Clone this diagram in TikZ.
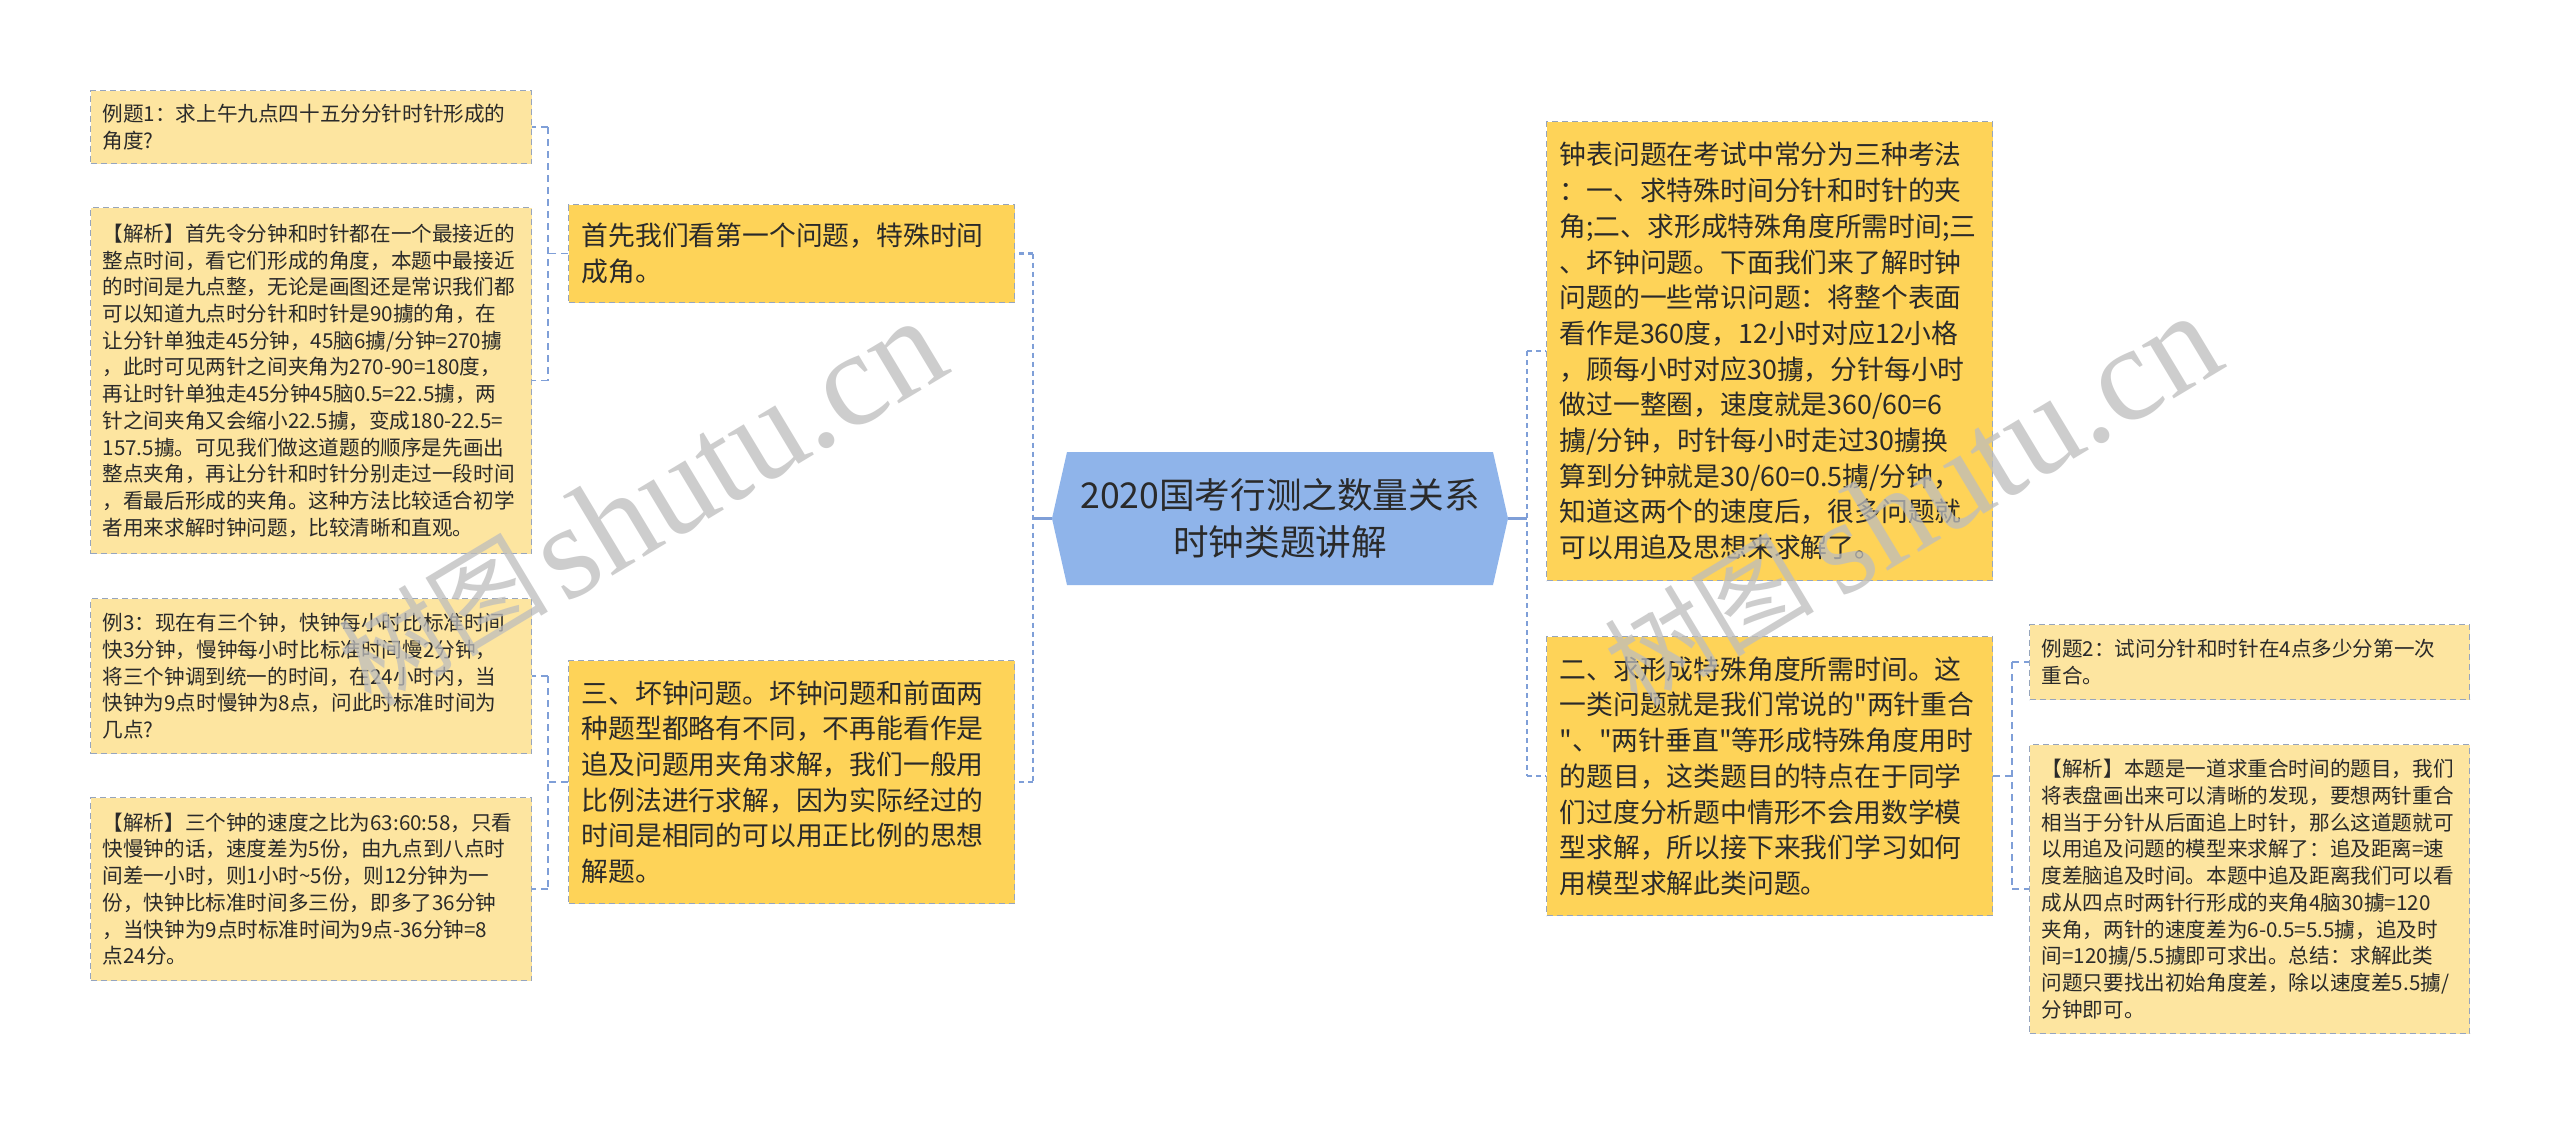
\documentclass[tikz,border=0pt]{standalone}
\usepackage{fontspec}
\setmainfont{Noto Sans CJK SC}[Ligatures=TeXOff]
\newfontfamily\wmfont{Liberation Serif}
\exhyphenpenalty=10000
\hyphenpenalty=10000
\definecolor{leaffill}{HTML}{FDE5A0}
\definecolor{branchfill}{HTML}{FED358}
\definecolor{centerfill}{HTML}{8FB4EA}
\definecolor{bordercol}{HTML}{96A5BE}
\definecolor{conncol}{HTML}{7F9FD8}
\definecolor{txtcol}{HTML}{2A2A2A}
\definecolor{wmcol}{HTML}{BDBDBD}
\tikzset{
  box/.style={draw=bordercol, line width=1.3pt, dash pattern=on 6pt off 4pt,
    align=left, inner ysep=0pt, text=txtcol, anchor=north west},
  leaf/.style={box, fill=leaffill, inner xsep=12pt, text width=417pt,
    minimum width=441pt, font=\fontsize{20.6}{26.7}\selectfont},
  branch/.style={box, fill=branchfill, inner xsep=13pt, text width=420pt,
    minimum width=446pt, font=\fontsize{26.8}{35.7}\selectfont},
  conn/.style={draw=conncol, line width=1.6pt, dash pattern=on 7pt off 5pt},
  mainconn/.style={draw=conncol, line width=2.6pt, dash pattern=on 5pt off 4pt},
  solidconn/.style={draw=conncol, line width=2.6pt},
  wm/.style={text=wmcol, opacity=0.75, rotate=31, inner sep=0pt}
}
\begin{document}
\begin{tikzpicture}[x=1pt,y=-1pt]
\useasboundingbox[fill=white] (0,0) rectangle (2560,1124);

% central node
\fill[centerfill] (1067,452) -- (1493,452) -- (1508,518.5) -- (1493,585) -- (1067,585) -- (1052,518.5) -- cycle;
\node[minimum width=456pt, minimum height=133pt, inner sep=0pt, align=center,
  font=\fontsize{35.6}{47}\selectfont, text=txtcol] (C) at (1280,518.5)
  {2020国考行测之数量关系\\时钟类题讲解};

% left leaves
\node[leaf, minimum height=73pt] (L1) at (90,90)
{例题1：求上午九点四十五分分针时针形成的\\角度?};
\node[leaf, minimum height=346pt] (L2) at (90,207)
{【解析】首先令分钟和时针都在一个最接近的\\
整点时间，看它们形成的角度，本题中最接近\\
的时间是九点整，无论是画图还是常识我们都\\
可以知道九点时分针和时针是90擄的角，在\\
让分针单独走45分钟，45脑6擄/分钟=270擄\\
，此时可见两针之间夹角为270-90=180度，\\
再让时针单独走45分钟45脑0.5=22.5擄，两\\
针之间夹角又会缩小22.5擄，变成180-22.5=\\
157.5擄。可见我们做这道题的顺序是先画出\\
整点夹角，再让分针和时针分别走过一段时间\\
，看最后形成的夹角。这种方法比较适合初学\\
者用来求解时钟问题，比较清晰和直观。};
\node[leaf, minimum height=155pt] (L3) at (90,598)
{例3：现在有三个钟，快钟每小时比标准时间\\
快3分钟，慢钟每小时比标准时间慢2分钟，\\
将三个钟调到统一的时间，在24小时内，当\\
快钟为9点时慢钟为8点，问此时标准时间为\\
几点?};
\node[leaf, minimum height=183pt] (L4) at (90,797)
{【解析】三个钟的速度之比为63:60:58，只看\\
快慢钟的话，速度差为5份，由九点到八点时\\
间差一小时，则1小时\textasciitilde 5份，则12分钟为一\\
份，快钟比标准时间多三份，即多了36分钟\\
，当快钟为9点时标准时间为9点-36分钟=8\\
点24分。};

% left branches
\node[branch, minimum height=98pt] (B1) at (568,204)
{首先我们看第一个问题，特殊时间\\成角。};
\node[branch, minimum height=243pt] (B3) at (568,660)
{三、坏钟问题。坏钟问题和前面两\\
种题型都略有不同，不再能看作是\\
追及问题用夹角求解，我们一般用\\
比例法进行求解，因为实际经过的\\
时间是相同的可以用正比例的思想\\
解题。};

% right branches
\node[branch, minimum height=459pt] (R1) at (1546,121)
{钟表问题在考试中常分为三种考法\\
：一、求特殊时间分针和时针的夹\\
角;二、求形成特殊角度所需时间;三\\
、坏钟问题。下面我们来了解时钟\\
问题的一些常识问题：将整个表面\\
看作是360度，12小时对应12小格\\
，顾每小时对应30擄，分针每小时\\
做过一整圈，速度就是360/60=6\\
擄/分钟，时针每小时走过30擄换\\
算到分钟就是30/60=0.5擄/分钟，\\
知道这两个的速度后，很多问题就\\
可以用追及思想来求解了。};
\node[branch, minimum height=279pt] (R2) at (1546,636)
{二、求形成特殊角度所需时间。这\\
一类问题就是我们常说的"两针重合\\
"、"两针垂直"等形成特殊角度用时\\
的题目，这类题目的特点在于同学\\
们过度分析题中情形不会用数学模\\
型求解，所以接下来我们学习如何\\
用模型求解此类问题。};

% right leaves
\node[leaf, minimum height=75pt, minimum width=440pt, text width=416pt] (RL1) at (2029,624)
{例题2：试问分针和时针在4点多少分第一次\\重合。};
\node[leaf, minimum height=289pt, minimum width=440pt, text width=416pt] (RL2) at (2029,744)
{【解析】本题是一道求重合时间的题目，我们\\
将表盘画出来可以清晰的发现，要想两针重合\\
相当于分针从后面追上时针，那么这道题就可\\
以用追及问题的模型来求解了：追及距离=速\\
度差脑追及时间。本题中追及距离我们可以看\\
成从四点时两针行形成的夹角4脑30擄=120\\
夹角，两针的速度差为6-0.5=5.5擄，追及时\\
间=120擄/5.5擄即可求出。总结：求解此类\\
问题只要找出初始角度差，除以速度差5.5擄/\\
分钟即可。};

% spine coordinates
\coordinate (s1) at (548,0);
\coordinate (sL) at (1033,0);
\coordinate (sR) at (1527,0);
\coordinate (s4) at (2012,0);

% center to left branches
\draw[solidconn] (C.west) -- (C.west -| sL);
\draw[mainconn] (B1.east -| sL) -- (B3.east -| sL);
\draw[mainconn] (B1.east -| sL) -- (B1.east);
\draw[mainconn] (B3.east -| sL) -- (B3.east);

% center to right branches
\draw[solidconn] (C.east) -- (C.east -| sR);
\draw[mainconn] (R1.west -| sR) -- (R2.west -| sR);
\draw[mainconn] (R1.west -| sR) -- (R1.west);
\draw[mainconn] (R2.west -| sR) -- (R2.west);

% B1 to its leaves
\draw[conn] (B1.west) -- (B1.west -| s1);
\draw[conn] (L1.east -| s1) -- (L2.east -| s1);
\draw[conn] (L1.east -| s1) -- (L1.east);
\draw[conn] (L2.east -| s1) -- (L2.east);

% B3 to its leaves
\draw[conn] (B3.west) -- (B3.west -| s1);
\draw[conn] (L3.east -| s1) -- (L4.east -| s1);
\draw[conn] (L3.east -| s1) -- (L3.east);
\draw[conn] (L4.east -| s1) -- (L4.east);

% R2 to its leaves
\draw[conn] (R2.east) -- (R2.east -| s4);
\draw[conn] (RL1.west -| s4) -- (RL2.west -| s4);
\draw[conn] (RL1.west -| s4) -- (RL1.west);
\draw[conn] (RL2.west -| s4) -- (RL2.west);

% watermarks
\node[wm, anchor=base west, font=\wmfont\fontsize{135}{135}\selectfont] (wm1) at (565,605) {shutu.cn};
\node[wm, anchor=base east, font=\fontsize{105}{105}\selectfont] (wm1c) at (552,600) {树图};
\node[wm, anchor=base west, font=\wmfont\fontsize{135}{135}\selectfont] (wm2) at (1840,600) {shutu.cn};
\node[wm, anchor=base east, font=\fontsize{105}{105}\selectfont] (wm2c) at (1818,600) {树图};
\end{tikzpicture}
\end{document}
